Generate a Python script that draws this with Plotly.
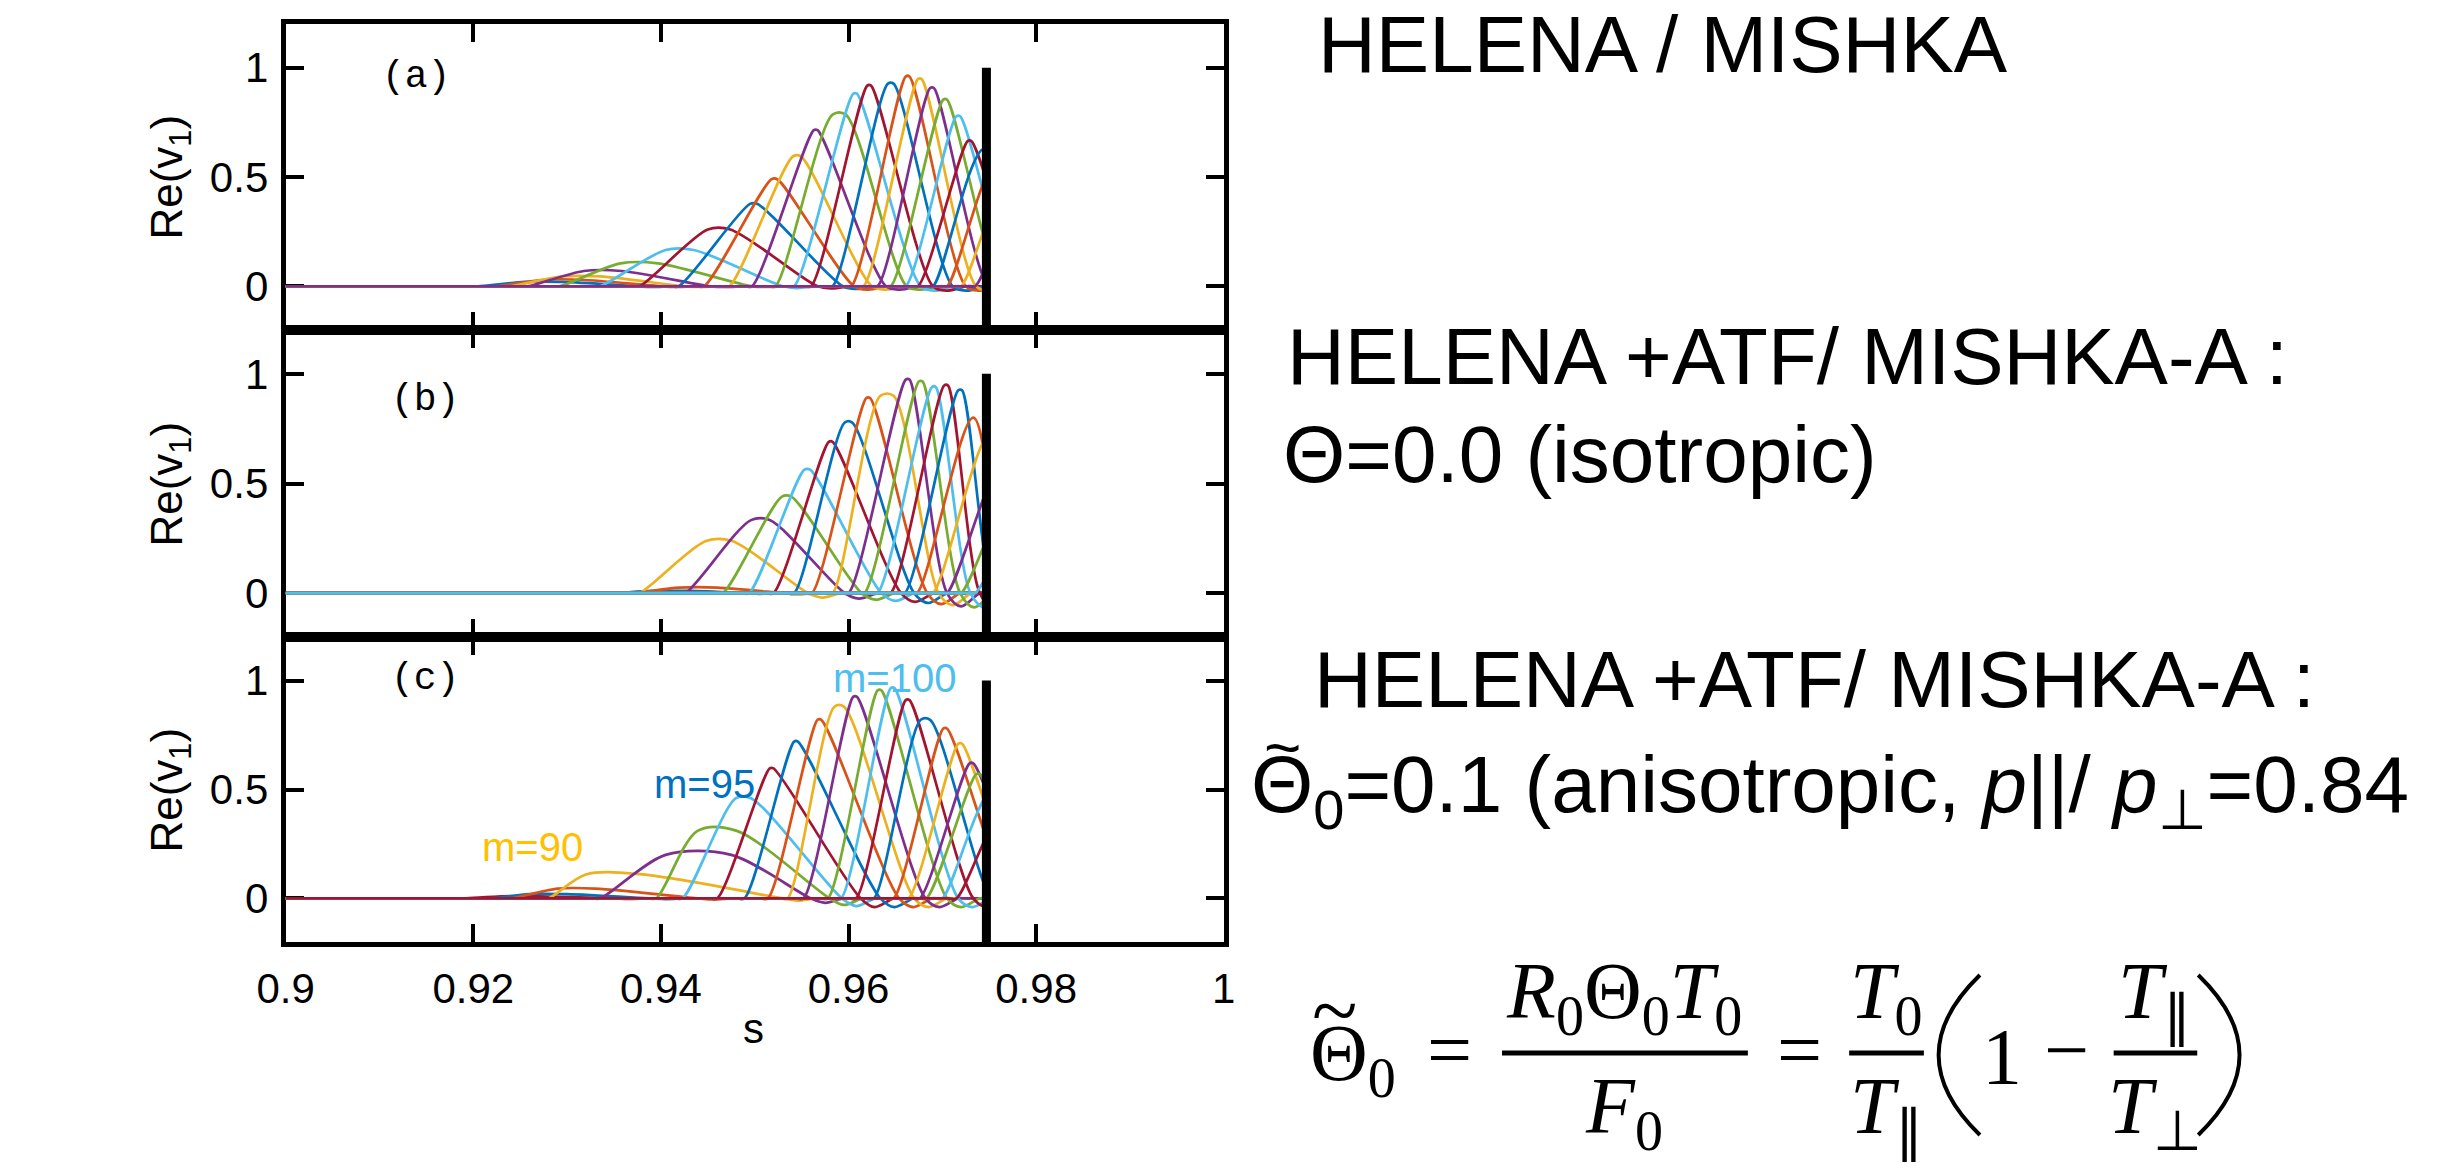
import plotly.graph_objects as go

W, H = 2460, 1175
S_MIN, S_MAX = 0.9, 1.0
S_EDGE = 0.9747          # plasma edge (thick vertical line); eigenfunction data end here

x_tick_vals = [0.9, 0.92, 0.94, 0.96, 0.98, 1.0]
x_tick_text = ["0.9", "0.92", "0.94", "0.96", "0.98", "1"]
y_tick_vals = [0, 0.5, 1]
y_tick_text = ["0", "0.5", "1"]

# ---------------- panel (a): HELENA / MISHKA ----------------
a_m       = [88, 89, 90, 91, 92, 93, 94, 95, 96, 97, 98, 99, 100, 101, 102, 103, 104, 105, 106, 107, 108, 109, 110, 111, 112]
a_peak_s  = [0.9275, 0.9295, 0.9315, 0.9338, 0.9377, 0.9420, 0.9462, 0.9499, 0.9521, 0.9545, 0.9565, 0.9590, 0.9607,
             0.9622, 0.9645, 0.9663, 0.9676, 0.9689, 0.9703, 0.9717, 0.9729, 0.9745, 0.9760, 0.9775, 0.9790]
a_peak_v  = [0.02, 0.03, 0.045, 0.07, 0.105, 0.166, 0.26, 0.377, 0.49, 0.595, 0.714, 0.785, 0.881,
             0.918, 0.927, 0.96, 0.948, 0.907, 0.854, 0.778, 0.664, 0.63, 0.58, 0.52, 0.45]
a_left_w  = [0.0070, 0.0070, 0.0075, 0.0080, 0.0085, 0.0085, 0.0085, 0.0080, 0.0075, 0.0072, 0.0068, 0.0068, 0.0065,
             0.0062, 0.0062, 0.0060, 0.0060, 0.0058, 0.0058, 0.0056, 0.0055, 0.0055, 0.0055, 0.0055, 0.0055]
a_right_w = [0.0100, 0.0105, 0.0110, 0.0115, 0.0120, 0.0110, 0.0105, 0.0095, 0.0085, 0.0080, 0.0075, 0.0072, 0.0070,
             0.0068, 0.0066, 0.0062, 0.0060, 0.0060, 0.0060, 0.0060, 0.0060, 0.0060, 0.0060, 0.0060, 0.0060]
a_flat    = [0.0020, 0.0020, 0.0020, 0.0020, 0.0020, 0.0015, 0.0012, 0.0004, 0.0003, 0.0004, 0.0002, 0.0007, 0.0002,
             0.0002, 0.0003, 0.0002, 0.0002, 0.0002, 0.0002, 0.0002, 0.0002, 0.0, 0.0, 0.0, 0.0]
a_dip     = [-0.003, -0.003, -0.003, -0.003, -0.003, -0.008, -0.010, -0.012, -0.015, -0.015, -0.015, -0.015, -0.020,
             -0.020, -0.020, -0.020, -0.020, -0.020, -0.020, -0.020, -0.020, -0.020, -0.020, -0.020, -0.020]

# ---------------- panel (b): HELENA+ATF / MISHKA-A, isotropic ----------------
b_m       = [88, 89, 90, 91, 92, 93, 94, 95, 96, 97, 98, 99, 100, 101, 102, 103, 104, 105, 106, 107]
b_peak_s  = [0.9410, 0.9440, 0.9462, 0.9506, 0.9534, 0.9556, 0.9581, 0.9600, 0.9621, 0.9641, 0.9663, 0.9677, 0.9691,
             0.9704, 0.9719, 0.9733, 0.9750, 0.9765, 0.9780, 0.9795]
b_peak_v  = [0.01, 0.025, 0.238, 0.333, 0.44, 0.563, 0.69, 0.778, 0.89, 0.90, 0.974, 0.965, 0.94,
             0.947, 0.925, 0.80, 0.72, 0.60, 0.50, 0.40]
b_left_w  = [0.0060, 0.0070, 0.0085, 0.0080, 0.0068, 0.0062, 0.0061, 0.0058, 0.0060, 0.0058, 0.0063, 0.0060, 0.0060,
             0.0059, 0.0059, 0.0060, 0.0060, 0.0060, 0.0060, 0.0060]
b_right_w = [0.0080, 0.0090, 0.0095, 0.0090, 0.0080, 0.0079, 0.0075, 0.0070, 0.0063, 0.0055, 0.0042, 0.0042, 0.0039,
             0.0036, 0.0035, 0.0035, 0.0035, 0.0035, 0.0035, 0.0035]
b_flat    = [0.0020, 0.0020, 0.0014, 0.0010, 0.0005, 0.0003, 0.0002, 0.0004, 0.0002, 0.0007, 0.0002, 0.0002, 0.0002,
             0.0002, 0.0002, 0.0, 0.0, 0.0, 0.0, 0.0]
b_dip     = [-0.003, -0.005, -0.020, -0.025, -0.030, -0.035, -0.040, -0.045, -0.050, -0.055, -0.060, -0.065, -0.065,
             -0.070, -0.070, -0.070, -0.070, -0.070, -0.070, -0.070]

# ---------------- panel (c): HELENA+ATF / MISHKA-A, anisotropic ----------------
c_m       = [87, 88, 89, 90, 91, 92, 93, 94, 95, 96, 97, 98, 99, 100, 101, 102, 103, 104, 105, 106, 107, 108]
c_peak_s  = [0.9250, 0.9280, 0.9310, 0.9350, 0.9440, 0.9460, 0.9488, 0.9518, 0.9544, 0.9569, 0.9590, 0.9607, 0.9633,
             0.9647, 0.9663, 0.9682, 0.9703, 0.9719, 0.9731, 0.9738, 0.9755, 0.9770]
c_peak_v  = [0.01, 0.02, 0.045, 0.11, 0.20, 0.31, 0.46, 0.597, 0.72, 0.82, 0.88, 0.925, 0.955,
             0.965, 0.91, 0.82, 0.78, 0.71, 0.62, 0.57, 0.50, 0.42]
c_left_w  = [0.0060, 0.0060, 0.0070, 0.0070, 0.0105, 0.0065, 0.0065, 0.0058, 0.0055, 0.0055, 0.0055, 0.0055, 0.0055,
             0.0055, 0.0055, 0.0055, 0.0055, 0.0055, 0.0055, 0.0055, 0.0055, 0.0055]
c_right_w = [0.0100, 0.0110, 0.0130, 0.0180, 0.0120, 0.0120, 0.0105, 0.0095, 0.0090, 0.0085, 0.0080, 0.0075, 0.0072,
             0.0070, 0.0070, 0.0070, 0.0070, 0.0065, 0.0065, 0.0065, 0.0060, 0.0060]
c_flat    = [0.0020, 0.0020, 0.0020, 0.0030, 0.0035, 0.0021, 0.0008, 0.0002, 0.0002, 0.0002, 0.0005, 0.0002, 0.0002,
             0.0002, 0.0002, 0.0005, 0.0002, 0.0002, 0.0002, 0.0002, 0.0, 0.0]
c_dip     = [-0.002, -0.003, -0.005, -0.010, -0.020, -0.030, -0.035, -0.040, -0.040, -0.040, -0.040, -0.040, -0.040,
             -0.040, -0.040, -0.040, -0.040, -0.040, -0.040, -0.040, -0.040, -0.040]

mode_labels = ["m=90", "m=95", "m=100"]
mode_label_s = [0.9263, 0.9447, 0.9649]
mode_label_v = [0.236, 0.523, 1.014]
mode_label_colors = ["#FFC000", "#0070C0", "#4DBEEE"]

# MATLAB default colour order, m=88 -> first colour
matlab_colors = ["#0072BD", "#D95319", "#EDB120", "#7E2F8E", "#77AC30", "#4DBEEE", "#A2142F"]

fig = go.Figure()


def px(x):
    return x / W


def py(y):
    return 1 - y / H


X0, X1 = px(261), px(1215)
XE = X0 + (X1 - X0) * (S_EDGE - S_MIN) / (S_MAX - S_MIN)
dom = {1: [py(330), py(24)], 2: [py(637), py(330)], 3: [py(942), py(637)]}

panels = [
    (a_m, a_peak_s, a_peak_v, a_left_w, a_right_w, a_flat, a_dip),
    (b_m, b_peak_s, b_peak_v, b_left_w, b_right_w, b_flat, b_dip),
    (c_m, c_peak_s, c_peak_v, c_left_w, c_right_w, c_flat, c_dip),
]

for k, (ms, ps, pv, lw, rw, fl, dp) in enumerate(panels, start=1):
    xa = "x%d" % (k + 3)
    ya = "y" if k == 1 else "y%d" % k
    for m, s0, v0, l, r, f, d in zip(ms, ps, pv, lw, rw, fl, dp):
        foot_l, foot_r = s0 - l, s0 + r
        xs = [S_MIN, foot_l - 0.0008, foot_l]
        ys = [0, 0, 0]
        if f > 0:
            xs += [s0 - f, s0 + f]
            ys += [v0, v0]
        else:
            xs += [s0]
            ys += [v0]
        xs += [foot_r, foot_r + 0.0015, foot_r + 0.0035, foot_r + 0.0043, 0.99]
        ys += [0, d, 0, 0, 0]
        fig.add_trace(go.Scatter(
            x=xs, y=ys, mode="lines", xaxis=xa, yaxis=ya,
            line=dict(color=matlab_colors[(m - 88) % 7], width=2.7, shape="spline", smoothing=0.9),
            showlegend=False, hoverinfo="skip"))

sans = "Liberation Sans, Arial, sans-serif"
serif = "Liberation Serif, Times New Roman, serif"
mono = "Liberation Mono, Courier New, monospace"

font_tick = dict(family=sans, size=42, color="black")
axis_common = dict(showline=True, linewidth=5, linecolor="black", mirror="ticks",
                   ticks="inside", ticklen=18, tickwidth=4, tickcolor="black",
                   showgrid=False, zeroline=False, tickfont=font_tick)

layout = dict(width=W, height=H, margin=dict(l=0, r=0, t=0, b=0),
              paper_bgcolor="white", plot_bgcolor="rgba(0,0,0,0)", showlegend=False)

for k in (1, 2, 3):
    xname = "xaxis" if k == 1 else "xaxis%d" % k
    yname = "yaxis" if k == 1 else "yaxis%d" % k
    yref = "y" if k == 1 else "y%d" % k
    xref = "x" if k == 1 else "x%d" % k
    layout[xname] = dict(axis_common, domain=[X0, X1], range=[S_MIN, S_MAX], anchor=yref,
                         tickvals=x_tick_vals, ticktext=x_tick_text, showticklabels=(k == 3),
                         ticklabelstandoff=6)
    layout[yname] = dict(axis_common, domain=dom[k], range=[-0.2, 1.2], anchor=xref,
                         tickvals=y_tick_vals, ticktext=y_tick_text, ticklabelstandoff=4)
    layout["xaxis%d" % (k + 3)] = dict(domain=[X0, XE], range=[S_MIN, S_EDGE], anchor=yref,
                                      visible=False, showgrid=False, zeroline=False)

fig.update_layout(**layout)

shapes = []
for k in (1, 2, 3):
    xref = "x" if k == 1 else "x%d" % k
    yref = "y" if k == 1 else "y%d" % k
    shapes.append(dict(type="line", xref=xref, yref=yref, x0=S_EDGE, x1=S_EDGE, y0=1.0, y1=-0.2,
                       line=dict(color="black", width=9), layer="above"))

annotations = []


def ann(text, xc, yc, size, fam=sans, color="black", xanchor="center", angle=0):
    annotations.append(dict(text=text, x=px(xc), y=py(yc), xref="paper", yref="paper", showarrow=False,
                            xanchor=xanchor, yanchor="middle", textangle=angle,
                            font=dict(family=fam, size=size, color=color)))


# y-axis titles and x-axis title
for yc in (177, 484, 790):
    ann("Re(v<sub>1</sub>)", 143, yc, 44, angle=-90)
ann("s", 737, 1028, 42)

# panel letters
ann("(a)", 394, 77, 38, fam=mono)
ann("(b)", 403, 399, 38, fam=mono)
ann("(c)", 403, 678, 38, fam=mono)

# mode labels in panel (c)
for txt, s, v, col in zip(mode_labels, mode_label_s, mode_label_v, mode_label_colors):
    annotations.append(dict(text=txt, x=s, y=v, xref="x3", yref="y3", showarrow=False,
                            xanchor="center", yanchor="middle",
                            font=dict(family=sans, size=40, color=col)))

# right-hand text
ann("HELENA / MISHKA", 1309, 44, 80, xanchor="left")
ann("HELENA +ATF/ MISHKA-A :", 1277, 356, 80, xanchor="left")
ann("Θ=0.0 (isotropic)", 1273, 454, 80, xanchor="left")
ann("HELENA +ATF/ MISHKA-A :", 1305, 680, 80, xanchor="left")
ann("Θ<sub>0</sub>=0.1 (anisotropic, <i>p</i>||/ <i>p</i><sub>⊥</sub>=0.84", 1241, 790, 80, xanchor="left")
ann("~", 1275, 748, 64)

# formula  Θ~0 = R0 Θ0 T0 / F0 = T0/T∥ (1 − T∥/T⊥)
ann("Θ<sub>0</sub>", 1346, 1059, 80, fam=serif)
ann("~", 1328, 1010, 84, fam=serif)
ann("=", 1445, 1050, 80, fam=serif)
ann("<i>R</i><sub>0</sub>Θ<sub>0</sub><i>T</i><sub>0</sub>", 1622, 997, 80, fam=serif)
ann("<i>F</i><sub>0</sub>", 1622, 1112, 80, fam=serif)
ann("=", 1801, 1050, 80, fam=serif)
ann("<i>T</i><sub>0</sub>", 1889, 997, 80, fam=serif)
ann("<i>T</i><sub>∥</sub>", 1889, 1112, 80, fam=serif)
ann("1", 2006, 1057, 80, fam=serif)
ann("−", 2072, 1050, 80, fam=serif)
ann("<i>T</i><sub>∥</sub>", 2162, 997, 80, fam=serif)
ann("<i>T</i><sub>⊥</sub>", 2162, 1112, 80, fam=serif)

for xa0, xa1 in ((1498, 1748), (1851, 1927), (2120, 2205)):
    shapes.append(dict(type="line", xref="paper", yref="paper", x0=px(xa0), x1=px(xa1),
                       y0=py(1053), y1=py(1053), line=dict(color="black", width=5)))


# tall thin parentheses
def paren(x_end, x_ctrl, y_top, y_bot):
    ym = (y_top + y_bot) / 2
    return "M %.5f,%.5f Q %.5f,%.5f %.5f,%.5f" % (px(x_end), py(y_top), px(x_ctrl), py(ym), px(x_end), py(y_bot))


shapes.append(dict(type="path", xref="paper", yref="paper", path=paren(1984, 1900, 975, 1135),
                   line=dict(color="black", width=4)))
shapes.append(dict(type="path", xref="paper", yref="paper", path=paren(2206, 2290, 975, 1135),
                   line=dict(color="black", width=4)))

fig.update_layout(shapes=shapes, annotations=annotations)
fig.write_html("out.html", config={"displayModeBar": False},
               post_script="document.body.style.margin='0px';")
